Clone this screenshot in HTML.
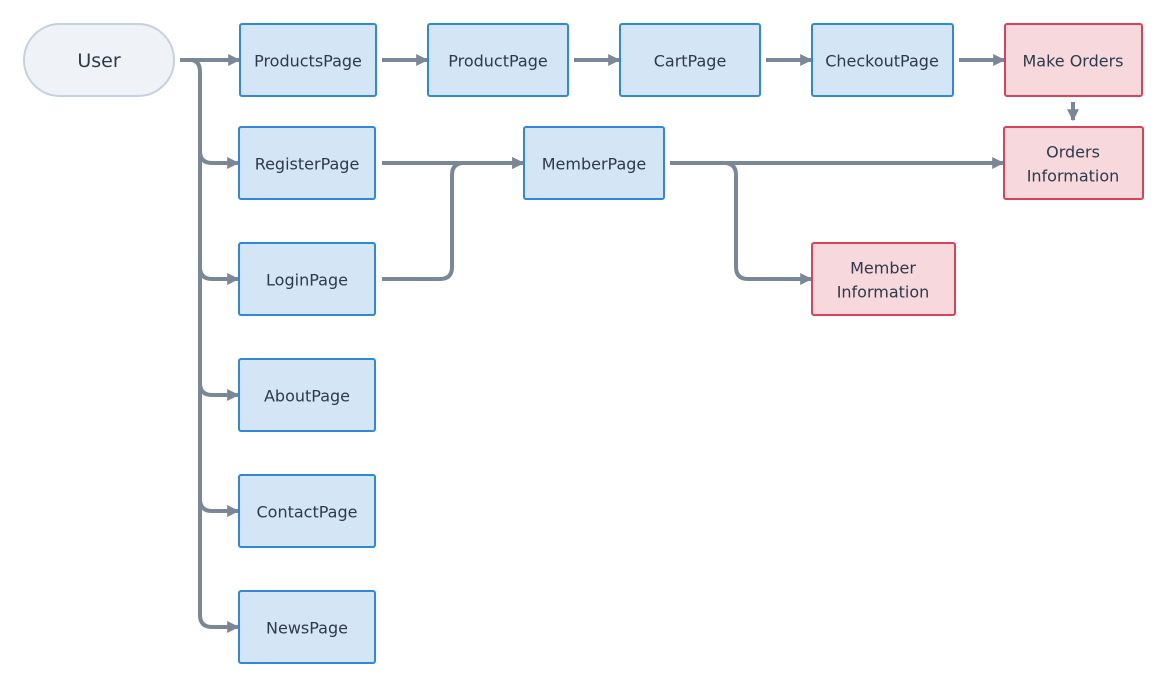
<!DOCTYPE html>
<html><head><meta charset="utf-8"><style>
html,body{margin:0;padding:0;background:#fff;}
svg{display:block;}
text{font-family:"DejaVu Sans","Liberation Sans",sans-serif;font-size:16px;fill:#2e3a4a;text-anchor:middle;dominant-baseline:central;}
.b{fill:#d4e5f5;stroke:#2f88d8;stroke-width:2;}
.p{fill:#f6d8dd;stroke:#d9435a;stroke-width:2;}
.l{fill:none;stroke:#7a8796;stroke-width:4;}
.a{fill:#7a8796;}
</style></head><body>
<svg width="1167" height="687" viewBox="0 0 1167 687">
<defs>
<marker id="m" viewBox="0 0 10 10" refX="9" refY="5" markerWidth="3" markerHeight="3.6" orient="auto" markerUnits="strokeWidth"><path d="M0,0 L10,5 L0,10 z" class="a"/></marker>
</defs>
<g class="l" marker-end="url(#m)">
<path d="M180,60 H239"/>
<path d="M180,60 H190 Q200,60 200,72 V151 Q200,163 212,163 H238"/>
<path d="M200,150 V267 Q200,279 212,279 H238"/>
<path d="M200,266 V383 Q200,395 212,395 H238"/>
<path d="M200,382 V499 Q200,511 212,511 H238"/>
<path d="M200,498 V615 Q200,627 212,627 H238"/>
<path d="M382,60 H427"/>
<path d="M574,60 H619"/>
<path d="M766,60 H811"/>
<path d="M959,60 H1004"/>
<path d="M1073,102 V120"/>
<path d="M382,163 H523"/>
<path d="M382,279 H440 Q452,279 452,267 V175 Q452,163 464,163 H523"/>
<path d="M670,163 H1003"/>
<path d="M670,163 H724 Q736,163 736,175 V267 Q736,279 748,279 H811"/>
</g>
<rect x="24" y="24" width="150" height="72" rx="36" fill="#eff3f7" stroke="#c5d1dc" stroke-width="2"/>
<text x="99" y="61" style="font-size:19px">User</text>
<rect class="b" x="240" y="24" width="136" height="72" rx="2"/><text x="308" y="61">ProductsPage</text>
<rect class="b" x="428" y="24" width="140" height="72" rx="2"/><text x="498" y="61">ProductPage</text>
<rect class="b" x="620" y="24" width="140" height="72" rx="2"/><text x="690" y="61">CartPage</text>
<rect class="b" x="812" y="24" width="141" height="72" rx="2"/><text x="882" y="61">CheckoutPage</text>
<rect class="p" x="1005" y="24" width="137" height="72" rx="2"/><text x="1073" y="61">Make Orders</text>
<rect class="p" x="1004" y="127" width="139" height="72" rx="2"/><text x="1073" y="152">Orders</text><text x="1073" y="176">Information</text>
<rect class="b" x="239" y="127" width="136" height="72" rx="2"/><text x="307" y="164">RegisterPage</text>
<rect class="b" x="524" y="127" width="140" height="72" rx="2"/><text x="594" y="164">MemberPage</text>
<rect class="p" x="812" y="243" width="143" height="72" rx="2"/><text x="883" y="268">Member</text><text x="883" y="292">Information</text>
<rect class="b" x="239" y="243" width="136" height="72" rx="2"/><text x="307" y="280">LoginPage</text>
<rect class="b" x="239" y="359" width="136" height="72" rx="2"/><text x="307" y="396">AboutPage</text>
<rect class="b" x="239" y="475" width="136" height="72" rx="2"/><text x="307" y="512">ContactPage</text>
<rect class="b" x="239" y="591" width="136" height="72" rx="2"/><text x="307" y="628">NewsPage</text>
</svg>
</body></html>
